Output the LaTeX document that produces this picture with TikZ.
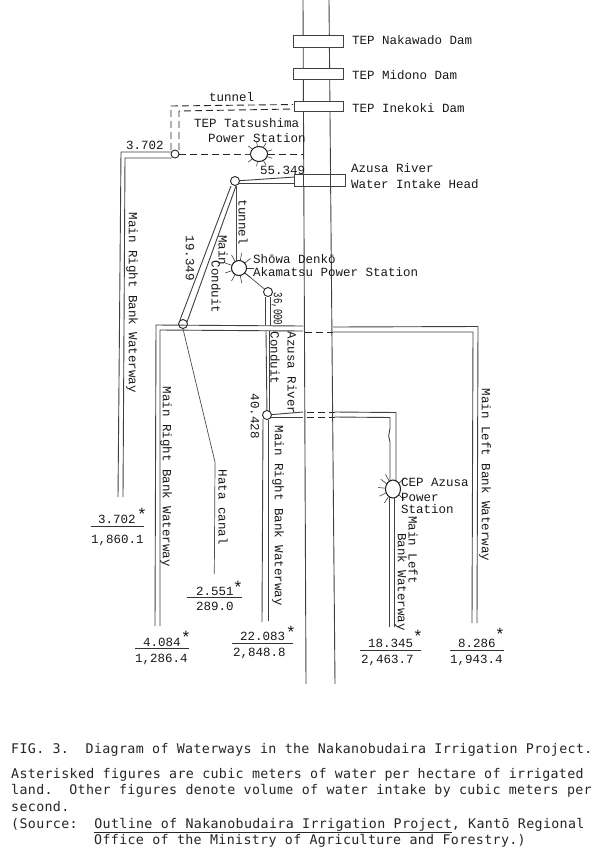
\documentclass[tikz,border=0pt]{standalone}
\usepackage{fontspec}
\setmainfont{Liberation Mono}
\newfontfamily\capfont[LetterSpace=2.6]{DejaVu Sans Mono}
\usetikzlibrary{shapes.geometric,calc}
\tikzset{
  x=1pt,y=-1pt,
  lab/.style={inner sep=0pt,font=\fontsize{12.5}{14}\selectfont,text=black!90,align=left},
  labb/.style={lab,anchor=base west},
  labr/.style={lab,rotate=-90},
  star/.style={inner sep=0pt,font=\fontsize{17}{17}\selectfont,text=black!90},
  capt/.style={inner sep=0pt,anchor=base west,font=\capfont\fontsize{13.3}{15}\selectfont,text=black!85},
  ln/.style={draw=black!75,line width=0.9pt},
  thin ln/.style={draw=black!70,line width=0.7pt},
  dsh/.style={draw=black!85,line width=0.9pt,dash pattern=on 7pt off 4pt},
  dam/.style={draw=black!75,fill=white,line width=0.9pt,inner sep=0pt},
  junc/.style={circle,draw=black!85,fill=white,line width=0.9pt,minimum size=9pt,inner sep=0pt},
  plant/.style={ellipse,draw=black!90,fill=white,line width=1pt,inner sep=0pt},
  ray/.style={draw=black!75,line width=0.6pt},
  frac/.style={draw=black!80,line width=0.9pt}
}
\begin{document}
\begin{tikzpicture}
\useasboundingbox (0,0) rectangle (599,855);
\fill[white] (0,0) rectangle (599,855);
% junctions and plants (declared first so connectors can use their names)
\node[junc,minimum size=8pt] (j1) at (175,154) {};
\node[junc] (j2) at (235,181) {};
\node[junc] (j3) at (183,324) {};
\node[junc] (j4) at (268,292) {};
\node[junc] (j5) at (267,415) {};
\node[plant,minimum width=17pt,minimum height=15pt] (p1) at (259,154) {};
\node[plant,minimum width=15pt,minimum height=15pt] (p2) at (239,268) {};
\node[plant,minimum width=15pt,minimum height=18pt] (p3) at (393,489) {};
% tunnel dashes
\coordinate (dTL) at (171,106); \coordinate (dTR) at (293,104.5);
\coordinate (dBL) at (179,111); \coordinate (dBR) at (293,109);
\draw[dsh] (171,150) -- (dTL) -- (dTR);
\draw[dsh] (179,150) -- (dBL) -- (dBR);
\draw[dsh] (j1) -- (p1);
\draw[dsh] (p1) -- (303,154);
% far left waterway
\draw[ln] (172,152) -- (121,152) -- (118,497);
\draw[ln] (172,158) -- (125,158) -- (123,497);
% main conduit to intake
\draw[ln] (j2) -- (295,177);
\draw[ln] (238,183) -- (295,183);
\draw[ln] (231,186) -- (180,320);
\draw[ln] (236,186) -- (187,322);
% tunnel line
\draw[thin ln] (236,186) -- (236,262);
% p2 to j4
\draw[thin ln] (p2) -- (j4);
% conduit
\draw[ln] (265,297) -- (265,325);
\draw[ln] (270,297) -- (270,326);
\draw[ln] (266,331) -- (j5);
\draw[ln] (269.5,331) -- (269.5,411);
% horizontal cross canal
\draw[ln] (303,326) -- (156,325) -- (155,626);
\draw[ln] (303,331) -- (160,330) -- (160,626);
\draw[dsh] (305,332) -- (333,332);
\draw[ln] (333,327) -- (478,326.5) -- (477,623);
\draw[ln] (333,332) -- (473,332) -- (472,623);
% hata canal
\draw[thin ln] (j3.south) -- (215,462) -- (214.3,574);
% central main right bank
\draw[ln] (263,419) -- (262,622);
\draw[ln] (268,420) -- (268,621);
\draw[ln] (j5) -- (303,412);
\draw[ln] (271,417) -- (303,417);
\draw[dsh] (307,412) -- (335,412);
\draw[dsh] (307,417) -- (335,417);
\draw[ln] (335,412) -- (396,412.5) -- (396,482);
\draw[ln] (335,417) -- (390,417.5) -- (390,428) -- (388.7,436) -- (390,442) -- (390,482);
% below CEP
\draw[ln] (389,497) -- (389,627);
\draw[ln] (394,497) -- (394,627);
% river
\draw[ln] (303,0) -- (306,684);
\draw[ln] (329,0) -- (335,684);
% dams
\node[dam,minimum width=50pt,minimum height=12pt] (d1) at (318,41) {};
\node[dam,minimum width=50pt,minimum height=11pt] (d2) at (318.5,73.5) {};
\node[dam,minimum width=49pt,minimum height=10pt] (d3) at (318.5,106) {};
\node[dam,minimum width=51pt,minimum height=12pt] (d4) at (319.5,180) {};
\draw[ln] (303.6,174) -- (303.6,186);
\draw[ln] (330.6,174) -- (330.6,186);
% rays
\foreach \a in {20,60,...,340}{\draw[ray] ($(p1)+(\a:8.5 and 7.5)$) -- ($(p1)+(\a:14 and 12.5)$);}
\foreach \a in {0,40,...,320}{\draw[ray] ($(p2)+(\a:7.5 and 7.5)$) -- ($(p2)+(\a:15 and 15)$);}
\foreach \a in {40,125,155,185,215,240,-40}{\draw[ray] ($(p3)+(\a:7.5 and 9)$) -- ($(p3)+(\a:15 and 17)$);}
% labels
\node[labb] (n1) at (352,44) {TEP Nakawado Dam};
\node[labb] (n2) at (352,79) {TEP Midono Dam};
\node[labb] (n3) at (352,112) {TEP Inekoki Dam};
\node[labb] (n4) at (351,172) {Azusa River};
\node[labb] (n5) at (351,188) {Water Intake Head};
\node[labb] (n6) at (209,101) {tunnel};
\node[labb] (n7) at (194,127) {TEP Tatsushima};
\node[labb] (n8) at (208,142) {Power Station};
\node[labb] (n9) at (126,149) {3.702};
\node[labb] (n10) at (260,174) {55.349};
\node[labb] (n11) at (253,263) {Sh\={o}wa Denk\={o}};
\node[labb] (n12) at (253,276) {Akamatsu Power Station};
\node[labb] (n13) at (401,486) {CEP Azusa};
\node[labb] (n14) at (401,501) {Power};
\node[labb] (n15) at (401,513) {Station};
% rotated
\node[labr] (r1) at (132,303) {Main Right Bank Waterway};
\node[labr] (r2) at (166,477) {Main Right Bank Waterway};
\node[labr] (r3) at (278,516) {Main Right Bank Waterway};
\node[labr] (r4) at (485,475) {Main Left Bank Waterway};
\node[labr] (r5) at (223,507) {Hata canal};
\node[labr] (r6) at (190,258) {19.349};
\node[labr] (r7) at (243,222) {tunnel};
\node[labr] (r8) at (223,250) {Main};
\node[labr] (r8b) at (216,287) {Conduit};
\node[labr] (r9) at (277,309) {\scalebox{0.72}[1]{36,000}};
\node[labr] (r10) at (275,358) {Conduit};
\node[labr] (r11) at (292,373) {Azusa River};
\node[labr] (r12) at (255,416) {40.428};
\node[labr] (r13) at (413,550) {Main Left};
\node[labr] (r14) at (401,582) {Bank Waterway};
% fractions
\draw[frac] (91,526) -- (144,526);
\node[labb] (f1a) at (98,523) {3.702};
\node[labb] (f1b) at (91,543) {1,860.1};
\node[star] (f1s) at (142,514) {*};
\draw[frac] (187,597) -- (242,597);
\node[labb] (f2a) at (196,595) {2.551};
\node[labb] (f2b) at (196,610) {289.0};
\node[star] (f2s) at (238,587) {*};
\draw[frac] (135,648) -- (189,648);
\node[labb] (f3a) at (143,646) {4.084};
\node[labb] (f3b) at (135,662) {1,286.4};
\node[star] (f3s) at (186,637) {*};
\draw[frac] (232,643) -- (293,643);
\node[labb] (f4a) at (240,640) {22.083};
\node[labb] (f4b) at (233,656) {2,848.8};
\node[star] (f4s) at (291,632) {*};
\draw[frac] (360,650) -- (421,650);
\node[labb] (f5a) at (368,647) {18.345};
\node[labb] (f5b) at (361,663) {2,463.7};
\node[star] (f5s) at (418,636) {*};
\draw[frac] (450,650) -- (504,650);
\node[labb] (f6a) at (458,647) {8.286};
\node[labb] (f6b) at (450,663) {1,943.4};
\node[star] (f6s) at (500,634) {*};
% caption
\node[capt] (c1) at (11,753) {FIG. 3.~~Diagram of Waterways in the Nakanobudaira Irrigation Project.};
\node[capt] (c2) at (11,778) {Asterisked figures are cubic meters of water per hectare of irrigated};
\node[capt] (c3) at (11,794) {land.~~Other figures denote volume of water intake by cubic meters per};
\node[capt] (c4) at (11,811) {second.};
\node[capt] (c5) at (11,828) {(Source:~~\underline{Outline of Nakanobudaira Irrigation Project}, Kant\={o} Regional};
\node[capt] (c6) at (94,844) {Office of the Ministry of Agriculture and Forestry.)};
\end{tikzpicture}
\end{document}
